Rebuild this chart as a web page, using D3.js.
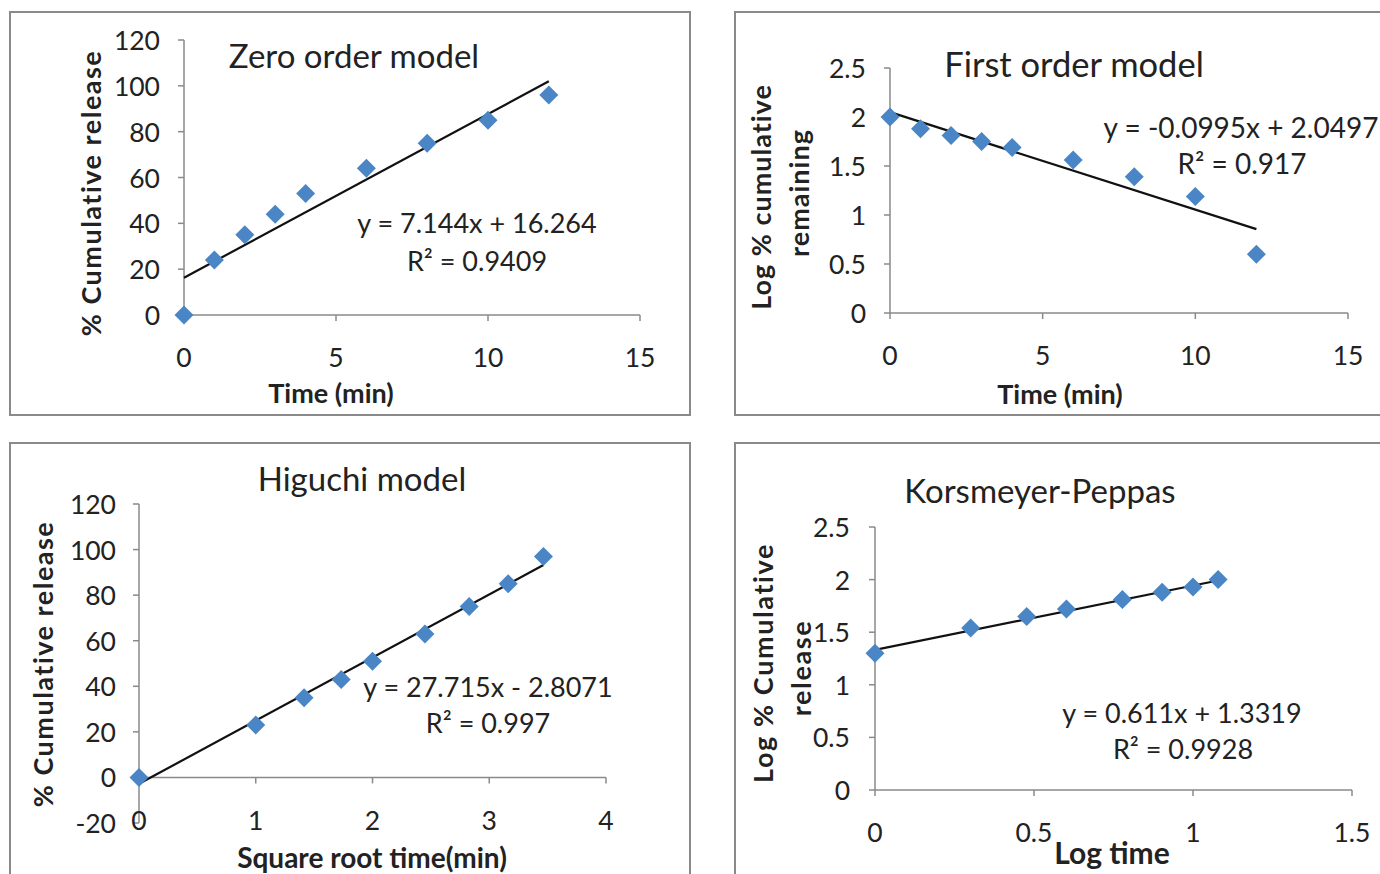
<!DOCTYPE html>
<html>
<head>
<meta charset="utf-8">
<script src="https://cdn.jsdelivr.net/npm/d3@7"></script>
<style>
  body { margin: 0; background: #fff; }
  svg text { font-family: Lato, "Open Sans", sans-serif; fill: #222; }
</style>
</head>
<body>
<div id="chart"></div>
<script>
// release data
const zeroTime = [0, 1, 2, 3, 4, 6, 8, 10, 12];
const zeroRelease = [0, 24, 35, 44, 53, 64, 75, 85, 96];

const firstTime = [0, 1, 2, 3, 4, 6, 8, 10, 12];
const firstLogRemaining = [2.0, 1.88, 1.81, 1.75, 1.69, 1.56, 1.39, 1.19, 0.6];

const higuchiSqrtTime = [0, 1, 1.414, 1.732, 2, 2.449, 2.828, 3.162, 3.464];
const higuchiRelease = [0, 23, 35, 43, 51, 63, 75, 85, 97];

const kpLogTime = [0, 0.301, 0.477, 0.602, 0.778, 0.903, 1, 1.079];
const kpLogRelease = [1.30, 1.54, 1.65, 1.72, 1.81, 1.88, 1.93, 2.0];

// fitted lines [slope, intercept]
const zeroFit = [7.144, 16.264];
const firstFit = [-0.0995, 2.0497];
const higuchiFit = [27.715, -2.8071];
const kpFit = [0.611, 1.3319];

const zeroXTicks = [0, 5, 10, 15], zeroYTicks = [0, 20, 40, 60, 80, 100, 120];
const firstXTicks = [0, 5, 10, 15], firstYTicks = [0, 0.5, 1, 1.5, 2, 2.5];
const higuchiXTicks = [0, 1, 2, 3, 4], higuchiYTicks = [-20, 0, 20, 40, 60, 80, 100, 120];
const kpXTicks = [0, 0.5, 1, 1.5], kpYTicks = [0, 0.5, 1, 1.5, 2, 2.5];

let svg = d3.select("#chart").append("svg")
    .attr("width", 1380)
    .attr("height", 874);

const panels = [
    {
        box: [10, 12, 680, 403],
        xs: d3.scaleLinear().domain([0, 15]).range([184, 640]),
        ys: d3.scaleLinear().domain([0, 120]).range([315, 40]),
        xt: zeroXTicks, yt: zeroYTicks, xv: zeroTime, yv: zeroRelease, fit: zeroFit,
        xLabY: 357, yLabX: 160,
        title: "Zero order model", titlePos: [354, 55], titleSize: 33,
        xTitle: "Time (min)", xTitlePos: [331, 392], xTitleSize: 27,
        yTitle: ["% Cumulative release"], yTitlePos: [[90, 193]], ySpacing: 1.5,
        eq: ["y = 7.144x + 16.264", "R² = 0.9409"], eqPos: [[477, 222], [477, 260]], eqSize: 27
    },
    {
        box: [735, 12, 700, 403],
        xs: d3.scaleLinear().domain([0, 15]).range([890, 1348]),
        ys: d3.scaleLinear().domain([0, 2.5]).range([313, 68]),
        xt: firstXTicks, yt: firstYTicks, xv: firstTime, yv: firstLogRemaining, fit: firstFit,
        xLabY: 355, yLabX: 866,
        title: "First order model", titlePos: [1074, 63], titleSize: 34.5,
        xTitle: "Time (min)", xTitlePos: [1060, 393], xTitleSize: 27,
        yTitle: ["Log % cumulative", "remaining"], yTitlePos: [[760, 197], [798, 193]], ySpacing: 1,
        eq: ["y = -0.0995x + 2.0497", "R² = 0.917"], eqPos: [[1241, 127], [1242, 163]], eqSize: 28
    },
    {
        box: [10, 443, 680, 460],
        xs: d3.scaleLinear().domain([0, 4]).range([139, 606]),
        ys: d3.scaleLinear().domain([-20, 120]).range([823, 504]),
        xt: higuchiXTicks, yt: higuchiYTicks, xv: higuchiSqrtTime, yv: higuchiRelease, fit: higuchiFit,
        xLabY: 820, yLabX: 116,
        title: "Higuchi model", titlePos: [362, 478], titleSize: 33,
        xTitle: "Square root time(min)", xTitlePos: [372, 857], xTitleSize: 28,
        yTitle: ["% Cumulative release"], yTitlePos: [[42, 664]], ySpacing: 1.5,
        eq: ["y = 27.715x - 2.8071", "R² = 0.997"], eqPos: [[488, 686], [488, 722]], eqSize: 27
    },
    {
        box: [735, 443, 700, 460],
        xs: d3.scaleLinear().domain([0, 1.5]).range([875, 1352]),
        ys: d3.scaleLinear().domain([0, 2.5]).range([790, 527]),
        xt: kpXTicks, yt: kpYTicks, xv: kpLogTime, yv: kpLogRelease, fit: kpFit,
        xLabY: 832, yLabX: 850,
        title: "Korsmeyer-Peppas", titlePos: [1040, 490], titleSize: 33,
        xTitle: "Log time", xTitlePos: [1112, 852], xTitleSize: 30,
        yTitle: ["Log % Cumulative", "release"], yTitlePos: [[762, 663], [800, 668]], ySpacing: 1.6,
        eq: ["y = 0.611x + 1.3319", "R² = 0.9928"], eqPos: [[1182, 712], [1183, 748]], eqSize: 27
    }
];

panels.forEach(function(p) {
    let g = svg.append("g");
    let xs = p.xs, ys = p.ys;

    //chart frame
    g.append("rect")
        .attr("x", p.box[0]).attr("y", p.box[1])
        .attr("width", p.box[2]).attr("height", p.box[3])
        .attr("fill", "none")
        .attr("stroke", "#8a8a8a")
        .attr("stroke-width", 2);

    let y0 = ys(Math.max(0, ys.domain()[0]));
    let x0 = xs(0);

    //axes
    g.append("line")
        .attr("x1", x0).attr("x2", x0)
        .attr("y1", ys(ys.domain()[1])).attr("y2", ys(ys.domain()[0]))
        .attr("stroke", "#8a8a8a").attr("stroke-width", 1.5);
    g.append("line")
        .attr("x1", xs(xs.domain()[0])).attr("x2", xs(xs.domain()[1]))
        .attr("y1", y0).attr("y2", y0)
        .attr("stroke", "#8a8a8a").attr("stroke-width", 1.5);

    g.selectAll(".ytick").data(p.yt).enter().append("line")
        .attr("x1", x0 - 6).attr("x2", x0)
        .attr("y1", d => ys(d)).attr("y2", d => ys(d))
        .attr("stroke", "#8a8a8a").attr("stroke-width", 1.5);
    g.selectAll(".xtick").data(p.xt).enter().append("line")
        .attr("x1", d => xs(d)).attr("x2", d => xs(d))
        .attr("y1", y0).attr("y2", y0 + 6)
        .attr("stroke", "#8a8a8a").attr("stroke-width", 1.5);

    g.selectAll(".ylab").data(p.yt).enter().append("text")
        .attr("x", p.yLabX).attr("y", d => ys(d))
        .attr("text-anchor", "end")
        .attr("dominant-baseline", "central")
        .style("font-size", "26.5px")
        .text(d => d);
    g.selectAll(".xlab").data(p.xt).enter().append("text")
        .attr("x", d => xs(d)).attr("y", p.xLabY)
        .attr("text-anchor", "middle")
        .attr("dominant-baseline", "central")
        .style("font-size", "26.5px")
        .text(d => d);

    //trend line over the data range
    let xMin = d3.min(p.xv), xMax = d3.max(p.xv);
    g.append("line")
        .attr("x1", xs(xMin)).attr("y1", ys(p.fit[0] * xMin + p.fit[1]))
        .attr("x2", xs(xMax)).attr("y2", ys(p.fit[0] * xMax + p.fit[1]))
        .attr("stroke", "#111").attr("stroke-width", 2.2);

    //diamond markers
    let r = 9.5;
    g.selectAll(".pt").data(p.xv.map((x, i) => [x, p.yv[i]])).enter().append("path")
        .attr("d", d => {
            let cx = xs(d[0]), cy = ys(d[1]);
            return "M" + cx + "," + (cy - r) + "L" + (cx + r) + "," + cy +
                   "L" + cx + "," + (cy + r) + "L" + (cx - r) + "," + cy + "Z";
        })
        .attr("fill", "#4a86c6");

    //titles
    g.append("text")
        .attr("x", p.titlePos[0]).attr("y", p.titlePos[1])
        .attr("text-anchor", "middle").attr("dominant-baseline", "central")
        .style("font-size", p.titleSize + "px")
        .text(p.title);
    g.append("text")
        .attr("x", p.xTitlePos[0]).attr("y", p.xTitlePos[1])
        .attr("text-anchor", "middle").attr("dominant-baseline", "central")
        .style("font-size", p.xTitleSize + "px").style("font-weight", "bold")
        .text(p.xTitle);
    p.yTitle.forEach(function(t, i) {
        let pos = p.yTitlePos[i];
        g.append("text")
            .attr("transform", "translate(" + pos[0] + "," + pos[1] + ") rotate(-90)")
            .attr("text-anchor", "middle").attr("dominant-baseline", "central")
            .style("font-size", "27px").style("font-weight", "bold")
            .style("letter-spacing", p.ySpacing + "px")
            .text(t);
    });
    p.eq.forEach(function(t, i) {
        g.append("text")
            .attr("x", p.eqPos[i][0]).attr("y", p.eqPos[i][1])
            .attr("text-anchor", "middle").attr("dominant-baseline", "central")
            .style("font-size", p.eqSize + "px")
            .text(t);
    });
});
</script>
</body>
</html>
